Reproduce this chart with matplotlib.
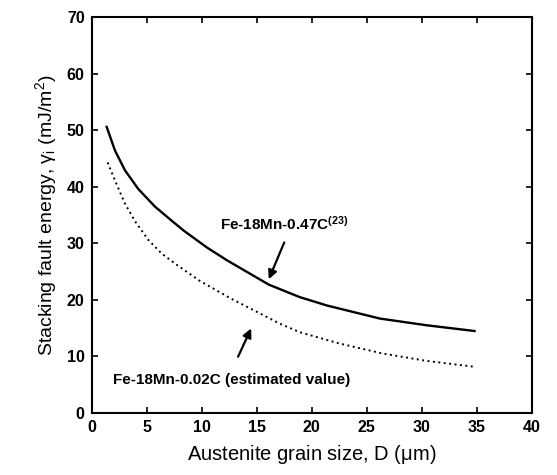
import matplotlib.pyplot as plt

plt.rcParams['font.family'] = ['Liberation Sans', 'DejaVu Sans']
plt.rcParams['mathtext.fontset'] = 'custom'
plt.rcParams['mathtext.rm'] = 'Liberation Sans'
plt.rcParams['mathtext.it'] = 'Liberation Sans:italic'
plt.rcParams['mathtext.bf'] = 'Liberation Sans:bold'

# values
d_047 = [1.36, 2.12, 3.03, 4.24, 5.75, 7.27, 8.4, 10.45, 12.3, 16.1, 18.9, 21.4, 26.2, 30.5, 34.8]
sfe_047 = [50.6, 46.4, 42.9, 39.6, 36.5, 34.0, 32.2, 29.3, 27.0, 22.7, 20.5, 19.0, 16.7, 15.5, 14.5]

d_002 = [1.45, 2.12, 3.03, 3.94, 5.15, 6.36, 7.73, 9.8, 12.6, 17.1, 18.9, 22.5, 26.5, 30.5, 34.7]
sfe_002 = [44.3, 41.1, 37.0, 33.9, 30.6, 28.2, 26.2, 23.4, 20.3, 15.8, 14.3, 12.3, 10.5, 9.2, 8.2]

x_ticks = [0, 5, 10, 15, 20, 25, 30, 35, 40]
y_ticks = [0, 10, 20, 30, 40, 50, 60, 70]

fig = plt.figure(figsize=(5.57, 4.75), dpi=100)
ax = fig.add_axes([0.1646, 0.1305, 0.79, 0.8335])

ax.plot(d_047, sfe_047, color='black', lw=1.7)
ax.plot(d_002, sfe_002, color='black', lw=1.4, linestyle=(0, (1, 1.8)))

ax.set_xlim(0, 40)
ax.set_ylim(0, 70)
ax.set_xticks(x_ticks)
ax.set_yticks(y_ticks)
ax.tick_params(direction='in', top=True, right=True, length=4, width=1.2,
               labelsize=11.5, pad=5)
for lab in ax.get_xticklabels() + ax.get_yticklabels():
    lab.set_fontweight('bold')
for sp in ax.spines.values():
    sp.set_linewidth(1.5)

ax.set_xlabel(r'Austenite grain size, D ($\mathrm{\mu}$m)', fontsize=14.5, labelpad=6)
ax.set_ylabel('Stacking fault energy, γ$_\\mathrm{i}$ (mJ/m$^2$)', fontsize=14, labelpad=6)

arrow = dict(arrowstyle='-|>', color='black', lw=1.6, mutation_scale=13)
ax.annotate('', xy=(16.0, 23.2), xytext=(17.6, 30.6), arrowprops=arrow)
ax.annotate('', xy=(14.6, 15.4), xytext=(13.2, 9.5), arrowprops=arrow)

ax.text(11.7, 33.4, r'Fe-18Mn-0.47C$^{\mathbf{(23)}}$', fontsize=11,
        fontweight='bold', va='center', ha='left')
ax.text(1.9, 5.8, 'Fe-18Mn-0.02C (estimated value)', fontsize=11,
        fontweight='bold', va='center', ha='left')

fig.savefig('out.png', dpi=100)
